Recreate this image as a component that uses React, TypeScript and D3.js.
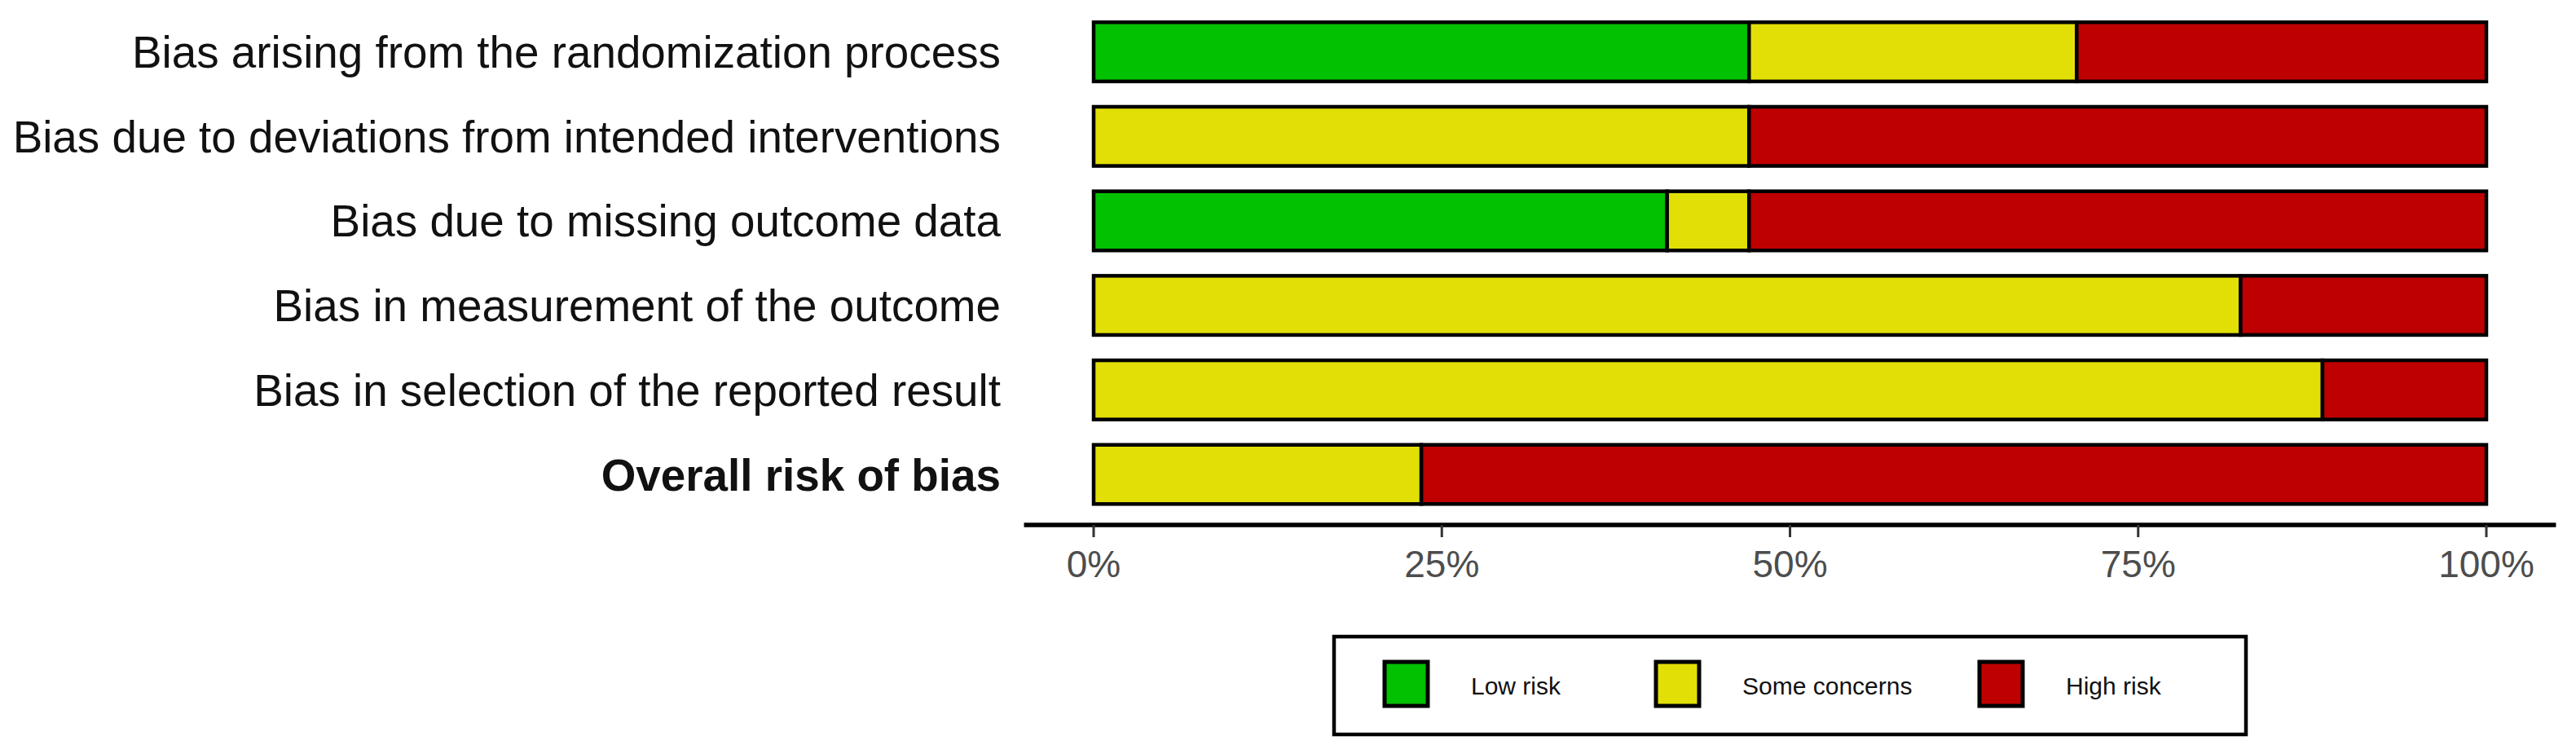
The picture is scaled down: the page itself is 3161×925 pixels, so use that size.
import * as d3 from 'd3'

// domains (rows, top to bottom)
const domains = [
  'Bias arising from the randomization process',
  'Bias due to deviations from intended interventions',
  'Bias due to missing outcome data',
  'Bias in measurement of the outcome',
  'Bias in selection of the reported result',
  'Overall risk of bias',
]

// number of studies per judgement (17 studies)
const total = 17
const lowRisk = [8, 0, 7, 0, 0, 0]
const someConcerns = [4, 8, 1, 14, 15, 4]
const highRisk = [5, 9, 9, 3, 2, 13]

const judgements = ['Low risk', 'Some concerns', 'High risk']
const colors = ['#02C100', '#E2DF07', '#BF0000']

const tickValues = [0, 0.25, 0.5, 0.75, 1]

const W = 3161
const H = 925
const font = '"Liberation Sans", Arial, Helvetica, sans-serif'

const App = () => {
  const xScale = d3.scaleLinear().domain([0, 1]).range([1342, 3051])

  const yScale = d3.scaleBand()
    .domain(domains)
    .range([11.75, 633.85])
    .paddingInner(0.3)
    .paddingOuter(0.15)

  const series = domains.map((d, i) => [lowRisk[i], someConcerns[i], highRisk[i]].map(v => v / total))

  const bars = domains.map((d, i) => {
    let acc = 0
    return series[i].map((p, j) => {
      const x0 = acc
      acc += p
      if (p === 0) return null
      return (
        <rect
          key={d + j}
          x={xScale(x0)}
          y={yScale(d)}
          width={xScale(acc) - xScale(x0)}
          height={yScale.bandwidth()}
          fill={colors[j]}
          stroke="#000"
          strokeWidth={4.5}
        />
      )
    })
  })

  const labels = domains.map((d, i) => (
    <text
      key={d}
      x={1228}
      y={yScale(d) + yScale.bandwidth() / 2 + 19.5}
      textAnchor="end"
      fontSize={54.8}
      fontWeight={i === domains.length - 1 ? 'bold' : 'normal'}
      fill="#111"
    >
      {d}
    </text>
  ))

  const fmt = d3.format('.0%')
  const axisY = 644

  const legendX = [1697, 2030, 2427]

  return (
    <div style={{ position: 'absolute', left: 0, top: 0 }}>
      <svg width={W} height={H} style={{ display: 'block', fontFamily: font }}>
        <rect width={W} height={H} fill="#fff" />
        {bars}
        {labels}
        <g>
          <line x1={xScale(-0.05)} x2={xScale(1.05)} y1={axisY} y2={axisY} stroke="#000" strokeWidth={5.5} />
          {tickValues.map(t => (
            <g key={t} transform={`translate(${xScale(t)},0)`}>
              <line y1={axisY} y2={axisY + 15} stroke="#333" strokeWidth={3} />
              <text y={708} textAnchor="middle" fontSize={46} fill="#4d4d4d">{fmt(t)}</text>
            </g>
          ))}
        </g>
        <g>
          <rect x={1637} y={781} width={1119} height={120} fill="#fff" stroke="#000" strokeWidth={4.5} />
          {judgements.map((j, i) => (
            <g key={j} transform={`translate(${legendX[i]},0)`}>
              <rect x={2} y={812} width={53} height={54} fill={colors[i]} stroke="#000" strokeWidth={5} />
              <text x={108} y={852} fontSize={30} fill="#111">{j}</text>
            </g>
          ))}
        </g>
      </svg>
    </div>
  )
}

export default App
